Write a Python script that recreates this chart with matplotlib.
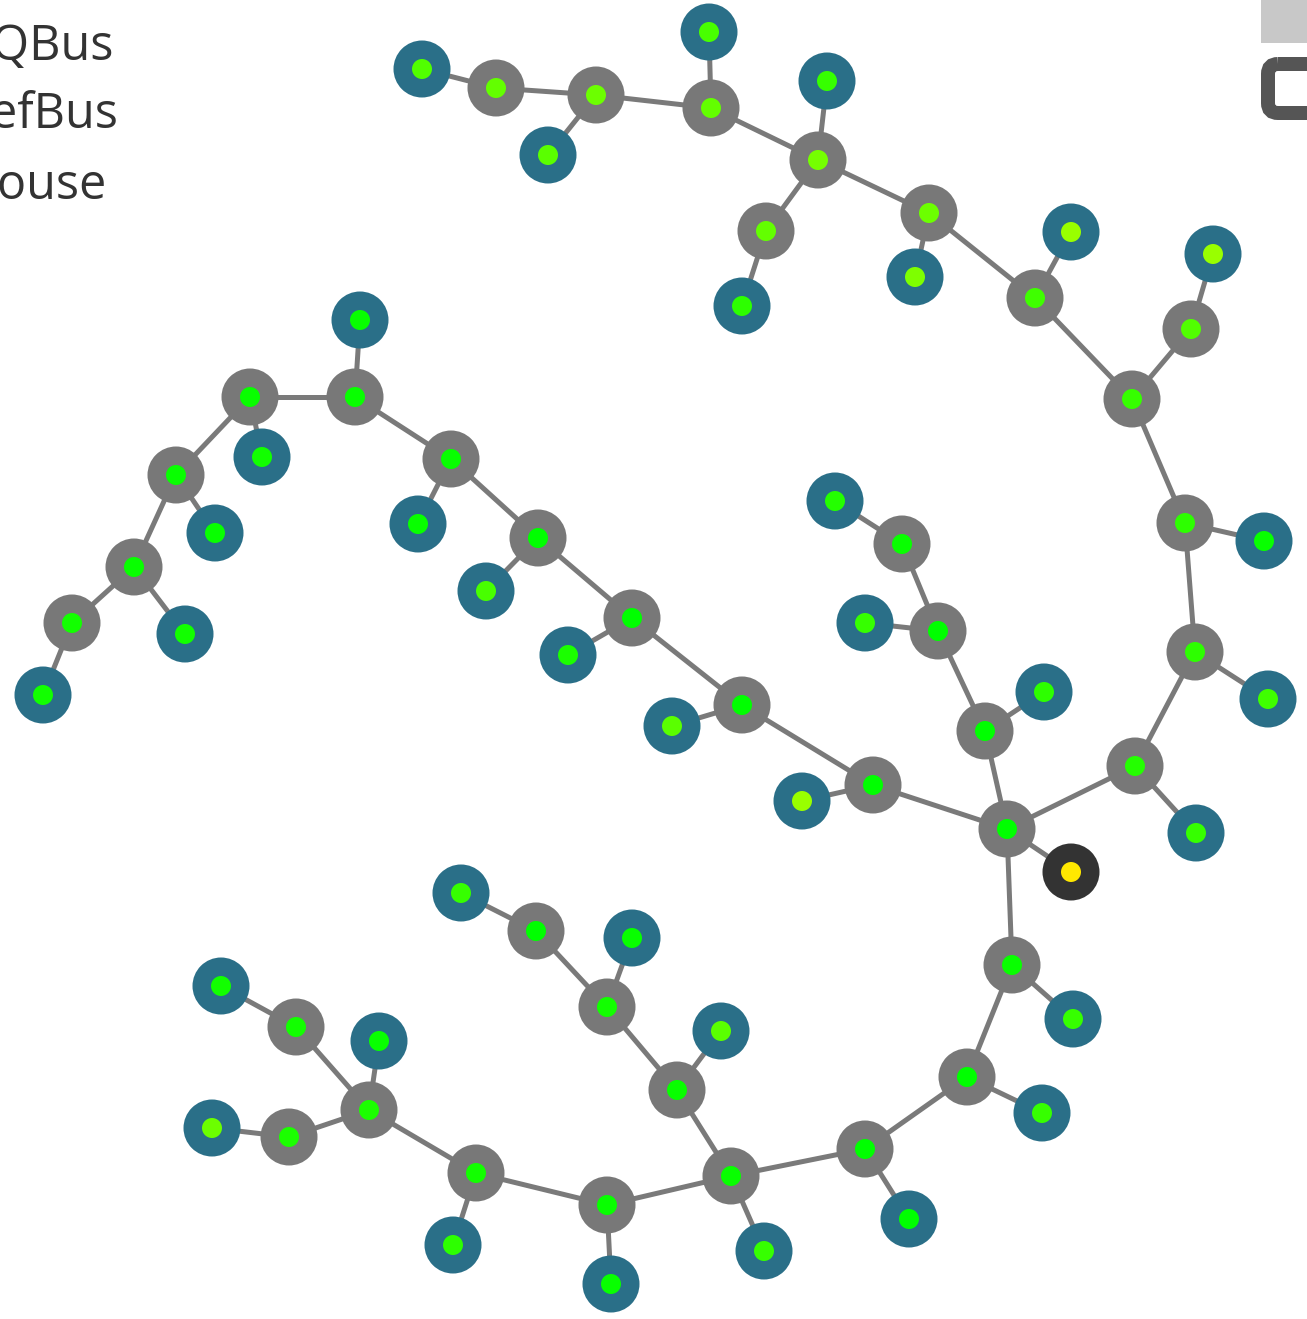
import numpy as np
import matplotlib
matplotlib.use("Agg")
import matplotlib.pyplot as plt
from matplotlib.collections import LineCollection
from matplotlib.colors import LinearSegmentedColormap
from matplotlib.patches import FancyBboxPatch, Rectangle

# ------------------------------------------------------------
# Grid layout (pixel positions of the rendered graph)
# kind: B = PQBus, R = RefBus, H = House
# level: 0 -> pure green dot, 1 -> yellow-green dot
# ------------------------------------------------------------
node_x = [1071, 1007,
          1135, 1196, 1195, 1268, 1185, 1264, 1132, 1191, 1213, 1035, 1071,
          929, 915, 818, 827, 766, 742, 711, 709, 596, 548, 496, 422,
          985, 1044, 938, 865, 902, 835,
          873, 802, 742, 672, 632, 568, 538, 486, 451, 418, 355, 360,
          250, 262, 176, 215, 134, 185, 72, 43,
          1012, 1073, 967, 1042, 865, 909, 731, 764, 677, 721, 607, 632,
          536, 461, 607, 611, 476, 453, 369, 379, 296, 221, 289, 212]
node_y = [872, 829,
          766, 833, 652, 699, 523, 541, 399, 329, 254, 298, 232,
          213, 277, 160, 81, 231, 306, 108, 32, 95, 155, 88, 69,
          731, 692, 631, 623, 544, 501,
          785, 801, 705, 726, 618, 655, 538, 591, 459, 524, 397, 320,
          397, 457, 475, 533, 567, 634, 623, 695,
          965, 1019, 1077, 1113, 1149, 1219, 1176, 1251, 1090, 1031, 1007, 938,
          931, 893, 1205, 1284, 1173, 1245, 1110, 1041, 1027, 986, 1137, 1128]
node_kind = ["R", "B",
             "B", "H", "B", "H", "B", "H", "B", "B", "H", "B", "H",
             "B", "H", "B", "H", "B", "H", "B", "H", "B", "H", "B", "H",
             "B", "H", "B", "H", "B", "H",
             "B", "H", "B", "H", "B", "H", "B", "H", "B", "H", "B", "H",
             "B", "H", "B", "H", "B", "H", "B", "H",
             "B", "H", "B", "H", "B", "H", "B", "H", "B", "H", "B", "H",
             "B", "H", "B", "H", "B", "H", "B", "H", "B", "H", "B", "H"]
node_level = [0.0, 0.0,
              0.2, 0.3, 0.25, 0.35, 0.25, 0.05, 0.3, 0.45, 0.85, 0.35, 0.85,
              0.6, 0.7, 0.65, 0.3, 0.55, 0.25, 0.55, 0.4, 0.6, 0.5, 0.55, 0.45,
              0.0, 0.25, 0.0, 0.3, 0.05, 0.2,
              0.0, 0.85, 0.0, 0.5, 0.0, 0.15, 0.0, 0.4, 0.05, 0.05, 0.05, 0.05,
              0.05, 0.1, 0.05, 0.05, 0.05, 0.1, 0.1, 0.1,
              0.05, 0.3, 0.0, 0.3, 0.0, 0.0, 0.05, 0.3, 0.05, 0.5, 0.1, 0.05,
              0.0, 0.3, 0.05, 0.05, 0.1, 0.25, 0.15, 0.05, 0.1, 0.1, 0.15, 0.6]

edges = [(1, 0), (1, 2), (2, 3), (2, 4), (4, 5), (4, 6), (6, 7), (6, 8),
         (8, 9), (9, 10), (8, 11), (11, 12), (11, 13), (13, 14), (13, 15),
         (15, 16), (15, 17), (17, 18), (15, 19), (19, 20), (19, 21), (21, 22),
         (21, 23), (23, 24),
         (1, 25), (25, 26), (25, 27), (27, 28), (27, 29), (29, 30),
         (1, 31), (31, 32), (31, 33), (33, 34), (33, 35), (35, 36), (35, 37),
         (37, 38), (37, 39), (39, 40), (39, 41), (41, 42), (41, 43), (43, 44),
         (43, 45), (45, 46), (45, 47), (47, 48), (47, 49), (49, 50),
         (1, 51), (51, 52), (51, 53), (53, 54), (53, 55), (55, 56), (55, 57),
         (57, 58), (57, 59), (59, 60), (59, 61), (61, 62), (61, 63), (63, 64),
         (57, 65), (65, 66), (65, 67), (67, 68), (67, 69), (69, 70), (69, 71),
         (71, 72), (69, 73), (73, 74)]

legend_labels = ["PQBus", "RefBus", "House"]

# cores
kind_color = {"B": "#787878", "R": "#333333", "H": "#2a6f88"}
dot_cmap = LinearSegmentedColormap.from_list("volt", ["#00ff00", "#b4ff00"])
ref_dot = "#ffe800"

W, H = 1307, 1319
fig = plt.figure(figsize=(W / 100, H / 100), dpi=100)
ax = fig.add_axes([0, 0, 1, 1])
ax.set_xlim(0, W)
ax.set_ylim(H, 0)
ax.axis("off")

px = 72 / 100  # 1 pixel in points

x = np.array(node_x)
y = np.array(node_y)

# arestas
segs = [[(x[a], y[a]), (x[b], y[b])] for a, b in edges]
ax.add_collection(LineCollection(segs, colors="#7a7a7a", linewidths=5 * px, zorder=1))

# nos
outer_s = (57 * px) ** 2
inner_s = (20 * px) ** 2
outer_c = [kind_color[k] for k in node_kind]
inner_c = [ref_dot if k == "R" else dot_cmap(lv) for k, lv in zip(node_kind, node_level)]
ax.scatter(x, y, s=outer_s, c=outer_c, linewidths=0, zorder=2)
ax.scatter(x, y, s=inner_s, c=inner_c, linewidths=0, zorder=3)

# legenda (cortada na borda esquerda)
legend_right = [114, 118, 107]
legend_base = [60, 128, 199]
for lab, xr, yb in zip(legend_labels, legend_right, legend_base):
    ax.text(xr, yb, lab, ha="right", va="baseline", fontsize=35,
            family="Open Sans", color="#333333", zorder=4)

# controles no canto superior direito (cortados)
ax.add_patch(Rectangle((1261, 0), 60, 43, facecolor="#c8c8c8", edgecolor="none", zorder=4))
ax.add_patch(FancyBboxPatch((1268, 64), 70, 49, boxstyle="round,pad=0,rounding_size=10",
                            facecolor="none", edgecolor="#555555", linewidth=14 * px, zorder=4))

fig.savefig("out.png", dpi=100)
